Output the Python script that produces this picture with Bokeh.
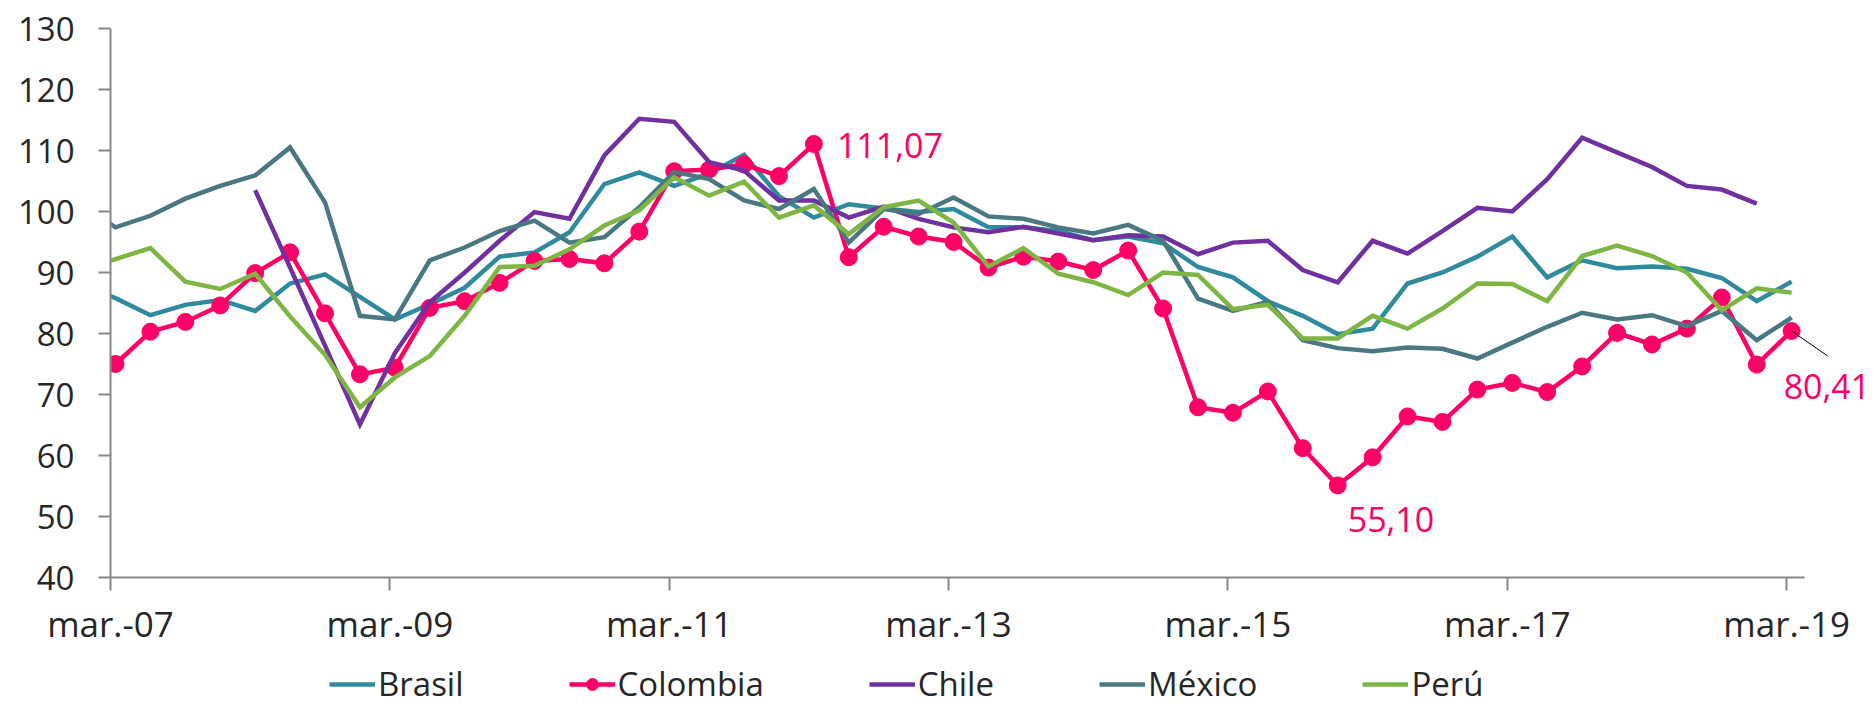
import numpy as np
from bokeh.plotting import figure
from bokeh.models import (Range1d, FixedTicker, Legend, LegendItem, Label, BoxAnnotation)
from bokeh.embed import file_html
from bokeh.resources import INLINE

# ---------------- data ----------------
months = ["mar.", "jun.", "sep.", "dic."]
quarters = ["dic.-06"] + [f"{m}-{y:02d}" for y in range(7, 20) for m in months][:49]

brasil = [88.0, 85.8, 83.0, 84.7, 85.5, 83.7, 88.2, 89.7, 86.0, 82.3, 84.8,
          87.5, 92.6, 93.3, 96.6, 104.5, 106.4, 104.2, 106.2, 109.3, 102.5,
          99.0, 101.2, 100.5, 99.9, 100.4, 97.4, 97.4, 96.8, 95.3, 95.9,
          94.8, 90.9, 89.2, 85.3, 82.9, 79.9, 80.8, 88.2, 90.0, 92.6,
          95.9, 89.2, 92.0, 90.7, 91.0, 90.6, 89.1, 85.3, 88.5]
colombia = [np.nan, 75.0, 80.3, 81.9, 84.6, 89.9, 93.3, 83.3, 73.3, 74.4, 84.2,
            85.3, 88.3, 91.9, 92.2, 91.5, 96.7, 106.6, 106.9, 107.7, 105.8,
            111.07, 92.5, 97.5, 95.9, 95.0, 90.8, 92.6, 91.8, 90.4, 93.6,
            84.1, 67.9, 67.0, 70.5, 61.2, 55.10, 59.7, 66.4, 65.5, 70.8,
            71.9, 70.4, 74.6, 80.1, 78.2, 80.8, 85.9, 74.9, 80.41]
chile = [np.nan, np.nan, np.nan, np.nan, np.nan, 103.5, 90.8, 78.0, 65.1, 76.8, 85.1,
         90.0, 95.2, 99.9, 98.8, 109.2, 115.2, 114.7, 108.1, 106.7, 101.8,
         101.8, 99.0, 100.8, 98.8, 97.4, 96.6, 97.5, 96.4, 95.3, 96.1,
         95.9, 93.0, 94.9, 95.2, 90.4, 88.4, 95.2, 93.1, 96.8, 100.6,
         100.0, 105.3, 112.1, 109.7, 107.3, 104.2, 103.6, 101.3, np.nan]
mexico = [101.3, 97.4, 99.3, 102.1, 104.2, 105.9, 110.5, 101.5, 82.9, 82.3, 92.0,
          94.1, 96.8, 98.5, 94.9, 95.8, 100.7, 106.5, 105.3, 101.8, 100.4,
          103.7, 94.9, 100.4, 99.6, 102.3, 99.2, 98.8, 97.4, 96.4, 97.8,
          95.2, 85.7, 83.7, 85.2, 78.9, 77.6, 77.1, 77.7, 77.5, 75.9,
          78.5, 81.1, 83.4, 82.3, 83.0, 81.2, 83.7, 78.9, 82.6]
peru = [90.4, 92.2, 94.0, 88.5, 87.3, 89.8, 82.8, 76.5, 67.9, 72.8, 76.3,
        82.9, 90.9, 91.1, 93.8, 97.7, 100.2, 105.6, 102.6, 104.9, 99.0,
        101.0, 96.3, 100.7, 101.8, 98.2, 91.0, 94.0, 89.8, 88.4, 86.3,
        90.0, 89.6, 84.0, 84.7, 79.2, 79.2, 82.9, 80.8, 84.1, 88.2,
        88.1, 85.3, 92.7, 94.4, 92.7, 90.0, 83.8, 87.4, 86.7]

tick_labels = ["mar.-07", "mar.-09", "mar.-11", "mar.-13", "mar.-15", "mar.-17", "mar.-19"]
y_ticks = [40, 50, 60, 70, 80, 90, 100, 110, 120, 130]
annotated = ["mar.-12", "dic.-15", "mar.-19"]

series_names = ["Brasil", "Colombia", "Chile", "México", "Perú"]
series_vals = [brasil, colombia, chile, mexico, peru]
colors = ["#2E8A9C", "#FF0066", "#7030A0", "#4A7882", "#7DB643"]

# ---------------- layout constants (pixels) ----------------
W, H = 1873, 706
LEFT, TOP = 110, 28        # pixel position of the value axis / of the value 130
AXIS_Y_PX = 577            # pixel row of the value 40
PX_PER_Q = 34.92           # pixels per quarter
TICK_SHIFT = 0.143         # ticks sit slightly before the data points
Y_MIN, Y_MAX = 40, 130
px_per_unit = (AXIS_Y_PX - TOP) / (Y_MAX - Y_MIN)
y_start = Y_MIN - (H - AXIS_Y_PX) / px_per_unit
y_end = Y_MAX + TOP / px_per_unit
x_axis_pos = -TICK_SHIFT
x_start = x_axis_pos - LEFT / PX_PER_Q
x_end = x_axis_pos + (W - LEFT) / PX_PER_Q

FONT = "Open Sans"
TXT = "#262626"
AX = "#878787"
x = np.arange(len(quarters)) - 1.0   # mar.-07 -> 0

p = figure(width=W, height=H, output_backend="svg", toolbar_location=None,
           x_range=Range1d(x_start, x_end), y_range=Range1d(y_start, y_end))
p.min_border_left = 0
p.min_border_right = 0
p.min_border_top = 0
p.min_border_bottom = 0
p.outline_line_color = None
p.xgrid.visible = False
p.ygrid.visible = False
p.background_fill_color = "white"
p.border_fill_color = "white"

last_x = x[-1] + 0.37
xa = p.xaxis[0]
xa.fixed_location = Y_MIN
xa.bounds = (x_axis_pos, last_x)
xa.ticker = FixedTicker(ticks=[x[quarters.index(t)] - TICK_SHIFT for t in tick_labels])
xa.major_label_overrides = {x[quarters.index(t)] - TICK_SHIFT: t for t in tick_labels}
xa.minor_tick_line_color = None
xa.major_tick_in = 0
xa.major_tick_out = 13
xa.axis_line_color = AX
xa.major_tick_line_color = AX
xa.axis_line_width = 2
xa.major_tick_line_width = 2
xa.major_label_text_font = FONT
xa.major_label_text_font_size = "35px"
xa.major_label_text_color = TXT
xa.major_label_standoff = 9

ya = p.yaxis[0]
ya.fixed_location = x_axis_pos
ya.bounds = (Y_MIN, Y_MAX)
ya.ticker = FixedTicker(ticks=y_ticks)
ya.minor_tick_line_color = None
ya.major_tick_in = 0
ya.major_tick_out = 12
ya.axis_line_color = AX
ya.major_tick_line_color = AX
ya.axis_line_width = 2
ya.major_tick_line_width = 2
ya.major_label_text_font = FONT
ya.major_label_text_font_size = "33px"
ya.major_label_text_color = TXT
ya.major_label_standoff = 24

items = []
for name, vals, col in zip(series_names, series_vals, colors):
    r = p.line(x, vals, line_color=col, line_width=4.5, line_join="miter")
    rs = [r]
    if name == "Colombia":
        s = p.scatter(x, vals, size=17, marker="circle", fill_color=col, line_color=col)
        rs.append(s)
    items.append(LegendItem(label=name, renderers=rs))

# the series start before the first visible quarter: hide what lies left of the value axis
p.add_layout(BoxAnnotation(right=x_axis_pos, fill_color="white", fill_alpha=1.0,
                           line_alpha=0, level="glyph"))

# annotations for Colombia
offsets = {"mar.-12": (23, -2), "dic.-15": (10, -34), "mar.-19": (-8, -56)}
for q in annotated:
    k = quarters.index(q)
    v = colombia[k]
    dx, dy = offsets[q]
    p.add_layout(Label(x=x[k], y=v, x_offset=dx, y_offset=dy,
                       text=f"{v:.2f}".replace(".", ","),
                       text_font=FONT, text_font_size="34px", text_color="#FF0066",
                       text_baseline="middle", text_align="left"))
# leader line for the last value
k = quarters.index("mar.-19")
p.segment(x0=[x[k]], y0=[colombia[k]], x1=[x[k] + 36 / PX_PER_Q],
          y1=[colombia[k] - 25 / px_per_unit], line_color="black", line_width=1)

legend = Legend(items=items, orientation="horizontal", location=(219 + LEFT, 0),
                glyph_width=46, glyph_height=30, label_standoff=3, spacing=105,
                padding=0, margin=0, border_line_alpha=0, background_fill_alpha=0,
                label_text_font=FONT, label_text_font_size="33px",
                label_text_color=TXT)
p.add_layout(legend, "center")

open("out.html", "w").write(file_html(p, INLINE))
